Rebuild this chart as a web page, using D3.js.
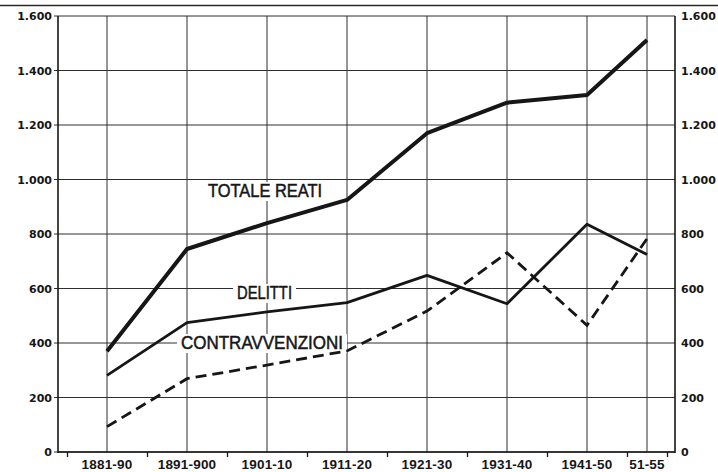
<!DOCTYPE html>
<html>
<head>
<meta charset="utf-8">
<script src="https://cdn.jsdelivr.net/npm/d3@7/dist/d3.min.js"></script>
<style>
  html, body { margin: 0; padding: 0; background: #fff; }
  svg { display: block; }
</style>
</head>
<body>
<div id="chart"></div>
<script>
// periods (first and last year of each)
const periodLabels = ['1881-90', '1891-900', '1901-10', '1911-20', '1921-30', '1931-40', '1941-50', '51-55'];
const periodStart = [1881, 1891, 1901, 1911, 1921, 1931, 1941, 1951];
const periodEnd = [1890, 1900, 1910, 1920, 1930, 1940, 1950, 1955];

// series values
const totaleReati = [370, 745, 840, 925, 1170, 1282, 1310, 1512];
const delitti = [281, 475, 514, 548, 648, 544, 836, 725];
const contravvenzioni = [93, 269, 319, 371, 517, 731, 465, 783];

const yTicks = [0, 200, 400, 600, 800, 1000, 1200, 1400, 1600];

const width = 718;
const height = 472;
const inkColor = '#161616';
const gridColor = '#2e2e2e';
const labelFont = '"Liberation Sans", Arial, sans-serif';
const tickFont = '"DejaVu Sans", Verdana, sans-serif';

const itFormat = d3.formatLocale({decimal: ',', thousands: '.', grouping: [3], currency: ['', '']}).format(',');

const midYear = periodStart.map((s, i) => (s + periodEnd[i]) / 2);
const boundaries = periodStart.map(s => s - 0.5).concat([periodEnd[periodEnd.length - 1] + 0.5]);

const xScale = d3.scaleLinear().domain([1879.375, 1956.5]).range([58, 675]);
const yScale = d3.scaleLinear().domain([0, 1600]).range([452, 16]);

const svg = d3.select('#chart')
  .append('svg')
  .attr('width', width)
  .attr('height', height);

// remnant rule of the table above the chart
svg.append('line')
  .attr('x1', 0).attr('x2', width)
  .attr('y1', 5.5).attr('y2', 5.5)
  .attr('stroke', '#2a2a2a')
  .attr('stroke-width', 1.6);

// horizontal grid
const grid = svg.append('g').attr('class', 'grid');
grid.selectAll('.h-line')
  .data(yTicks)
  .join('line')
  .attr('class', 'h-line')
  .attr('x1', xScale.range()[0] - 4)
  .attr('x2', xScale.range()[1])
  .attr('y1', d => yScale(d))
  .attr('y2', d => yScale(d))
  .attr('stroke', gridColor)
  .attr('stroke-width', 1);

// vertical grid at each period
grid.selectAll('.v-line')
  .data(midYear)
  .join('line')
  .attr('class', 'v-line')
  .attr('x1', d => xScale(d))
  .attr('x2', d => xScale(d))
  .attr('y1', yScale(1600))
  .attr('y2', yScale(0))
  .attr('stroke', gridColor)
  .attr('stroke-width', 1);

// frame: left, right and bottom axis lines
const frame = svg.append('g').attr('class', 'frame');
[xScale.range()[0], xScale.range()[1]].forEach(x => {
  frame.append('line')
    .attr('x1', x).attr('x2', x)
    .attr('y1', yScale(1600)).attr('y2', yScale(0) + 1)
    .attr('stroke', inkColor)
    .attr('stroke-width', 1.6);
});

// bottom axis with ticks on the period boundaries
const xAxis = d3.axisBottom(xScale)
  .tickValues(boundaries)
  .tickSize(5)
  .tickFormat('');

const xAxisEl = svg.append('g')
  .attr('transform', `translate(0, ${yScale(0)})`)
  .call(xAxis);
xAxisEl.select('.domain').remove();
xAxisEl.selectAll('line').attr('stroke', inkColor).attr('stroke-width', 1.3);

frame.append('line')
  .attr('x1', xScale.range()[0]).attr('x2', xScale.range()[1])
  .attr('y1', yScale(0)).attr('y2', yScale(0))
  .attr('stroke', inkColor)
  .attr('stroke-width', 1.6);

// period labels
svg.append('g')
  .selectAll('text')
  .data(periodLabels)
  .join('text')
  .attr('x', (d, i) => xScale(midYear[i]))
  .attr('y', 469)
  .attr('text-anchor', 'middle')
  .attr('font-family', labelFont)
  .attr('font-weight', 'bold')
  .attr('font-size', '13.5px')
  .attr('letter-spacing', '0.2px')
  .attr('fill', inkColor)
  .text(d => d);

// y labels on both sides
const yLabels = svg.append('g').attr('class', 'y-labels');
yLabels.selectAll('.left')
  .data(yTicks)
  .join('text')
  .attr('class', 'left')
  .attr('x', 52)
  .attr('y', d => yScale(d) + 4)
  .attr('text-anchor', 'end')
  .attr('font-family', tickFont)
  .attr('font-weight', 'bold')
  .attr('font-size', '11px')
  .attr('fill', inkColor)
  .text(d => itFormat(d));

yLabels.selectAll('.right')
  .data(yTicks)
  .join('text')
  .attr('class', 'right')
  .attr('x', 681)
  .attr('y', d => yScale(d) + 4)
  .attr('text-anchor', 'start')
  .attr('font-family', tickFont)
  .attr('font-weight', 'bold')
  .attr('font-size', '11px')
  .attr('fill', inkColor)
  .text(d => itFormat(d));

// series labels with a white patch behind them (the grid is broken there)
function seriesLabel(text, x, y, len) {
  const g = svg.append('g').attr('class', 'series-label');
  g.append('rect')
    .attr('x', x - 4)
    .attr('y', y - 15)
    .attr('width', len + 8)
    .attr('height', 19)
    .attr('fill', '#fff');
  g.append('text')
    .attr('x', x)
    .attr('y', y)
    .attr('font-family', labelFont)
    .attr('font-size', '18px')
    .attr('textLength', len)
    .attr('lengthAdjust', 'spacingAndGlyphs')
    .attr('fill', inkColor)
    .attr('stroke', inkColor)
    .attr('stroke-width', 0.5)
    .text(text);
}

// lines
const line = d3.line()
  .x((d, i) => xScale(midYear[i]))
  .y(d => yScale(d));

seriesLabel('TOTALE REATI', 208, 197, 114);
seriesLabel('DELITTI', 237, 299, 55);
seriesLabel('CONTRAVVENZIONI', 181, 349, 162);

const lines = svg.append('g').attr('class', 'lines');

lines.append('path')
  .datum(contravvenzioni)
  .attr('d', line)
  .attr('fill', 'none')
  .attr('stroke', inkColor)
  .attr('stroke-width', 2.8)
  .attr('stroke-dasharray', '11,6');

lines.append('path')
  .datum(delitti)
  .attr('d', line)
  .attr('fill', 'none')
  .attr('stroke', inkColor)
  .attr('stroke-width', 2.8)
  .attr('stroke-linejoin', 'round');

lines.append('path')
  .datum(totaleReati)
  .attr('d', line)
  .attr('fill', 'none')
  .attr('stroke', inkColor)
  .attr('stroke-width', 4)
  .attr('stroke-linejoin', 'round');
</script>
</body>
</html>
